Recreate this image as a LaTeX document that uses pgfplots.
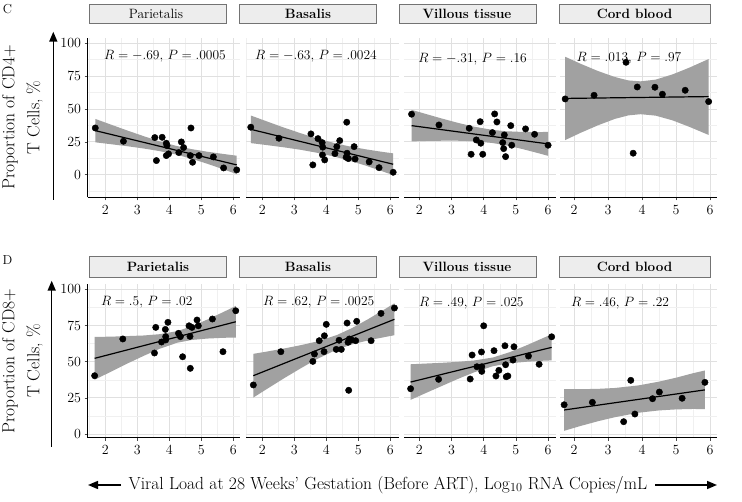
\RequirePackage{fix-cm}
\documentclass[border=0pt]{standalone}
\usepackage{fontspec}
\usepackage{pgfplots}
\pgfplotsset{compat=1.18}
\usepackage{pgfplotstable}
\usetikzlibrary{arrows.meta}

% ---------------- data: CD4+ (top row) ----------------
\pgfplotstableread{
x y
1.69 35.5
2.57 25.4
3.55 28.2
3.78 28.4
3.91 23.9
3.93 22.1
3.60 10.7
3.91 14.5
3.98 15.8
4.30 16.8
4.38 24.9
4.45 20.6
4.68 35.5
4.66 14.5
4.73 9.4
4.93 14.5
5.38 13.5
5.70 5.1
6.11 3.6
}\tA
\pgfplotstableread{
x y
1.64 36.1
2.52 27.7
3.52 31.0
3.58 7.4
3.74 27.4
3.87 24.4
3.89 20.9
3.88 15.0
3.95 11.2
4.27 16.0
4.33 21.3
4.42 25.9
4.64 39.9
4.65 16.3
4.62 13.2
4.69 12.2
4.87 21.3
4.90 11.9
5.34 9.7
5.65 5.3
6.09 1.8
}\tB
\pgfplotstableread{
x y
1.76 46.0
2.61 37.8
3.55 35.3
3.61 15.5
3.77 26.4
3.89 40.3
3.91 23.9
3.97 15.5
4.27 32.0
4.34 46.2
4.41 40.1
4.59 24.4
4.64 30.2
4.62 19.8
4.68 13.7
4.84 37.3
4.87 22.4
5.30 34.8
5.58 30.7
6.00 22.4
}\tC
\pgfplotstableread{
x y
1.74 57.6
2.59 60.4
3.53 85.5
3.74 16.3
3.86 66.7
4.38 66.5
4.60 61.2
5.27 64.2
5.96 55.6
}\tD
% ---------------- data: CD8+ (bottom row) ----------------
\pgfplotstableread{
x y
1.67 40.3
2.55 65.7
3.54 56.0
3.58 73.7
3.76 63.6
3.88 72.3
3.89 67.3
3.89 65.0
3.96 77.2
4.29 69.6
4.35 67.3
4.42 53.4
4.62 74.8
4.65 67.5
4.66 45.4
4.71 73.7
4.87 78.8
4.91 74.8
5.35 79.5
5.68 56.9
6.08 85.2
}\bA
\pgfplotstableread{
x y
1.72 33.9
2.58 56.9
3.58 50.2
3.63 55.3
3.78 64.5
3.94 67.9
3.93 56.9
4.00 75.8
4.31 58.5
4.40 64.8
4.47 58.5
4.65 76.7
4.68 63.4
4.72 65.7
4.70 30.2
4.79 65.0
4.92 64.5
4.95 77.9
5.40 64.5
5.71 83.4
6.13 87.1
}\bB
\pgfplotstableread{
x y
1.73 31.3
2.60 37.8
3.58 38.0
3.64 54.6
3.79 46.5
3.93 56.7
3.94 46.5
3.94 43.3
4.00 74.8
4.32 57.6
4.38 40.1
4.47 44.0
4.66 61.0
4.68 47.9
4.70 39.6
4.75 40.1
4.94 60.3
4.91 51.1
5.39 53.9
5.72 48.2
6.11 67.2
}\bC
\pgfplotstableread{
x y
1.71 20.2
2.54 21.9
3.46 8.5
3.67 37.1
3.79 13.8
4.31 24.4
4.51 29.0
5.18 24.7
5.85 35.7
}\bD

\pgfplotsset{
  panel/.style={scale only axis, anchor=south west, clip=false,
    xtick={2,3,4,5,6}, minor xtick={1.5,2.5,3.5,4.5,5.5},
    ytick={0,25,50,75,100}, minor ytick={-12.5,12.5,37.5,62.5,87.5},
    grid=both, major grid style={black!12, line width=0.7pt},
    minor grid style={black!6, line width=0.4pt},
    axis x line*=bottom, axis y line*=left,
    axis line style={-, black, line width=0.7pt},
    tick align=outside, major tick length=3pt, minor tick length=0pt,
    tick style={black!70, line width=0.5pt},
    tick label style={font=\fontsize{14}{16}\selectfont},
    xticklabel style={yshift=-1pt},
  },
  noy/.style={y axis line style={draw=none}, yticklabels={}, ytick style={draw=none}},
  toprow/.style={height=159.5pt, ymin=-17.4, ymax=104},
  botrow/.style={height=153.4pt, ymin=-2.56, ymax=103.5},
  c1/.style={width=152.8pt, xmin=1.447, xmax=6.222},
  c2/.style={width=152.5pt, xmin=1.491, xmax=6.257},
  c3/.style={width=152pt, xmin=1.525, xmax=6.245},
  c4/.style={width=156.7pt, xmin=1.588, xmax=6.197},
  band/.style={fill=black!37, draw=none, forget plot},
  fit/.style={black, line width=1.2pt, no markers},
  pts/.style={only marks, mark=*, mark size=3.2pt, black},
}

\begin{document}
\begin{tikzpicture}[x=1pt,y=1pt]
\useasboundingbox[fill=white] (0,0) rectangle (742,502);

% ================= TOP ROW (CD4+) =================
\begin{axis}[panel, toprow, c1, at={(87.5pt,304.5pt)}]
\addplot[band] coordinates {(1.69,42.4)(2.2,37.9)(2.7,33.5)(3.2,29.3)(3.7,25.3)(4.2,22.0)(4.7,19.4)(5.2,17.4)(5.7,15.7)(6.11,14.4)
 (6.11,0.4)(5.7,4.0)(5.2,8.2)(4.7,12.1)(4.2,15.4)(3.7,17.9)(3.2,19.9)(2.7,21.6)(2.2,23.1)(1.69,24.6)};
\addplot[fit] coordinates {(1.69,33.5)(6.11,7.4)};
\addplot[pts] table {\tA};
\end{axis}

\begin{axis}[panel, toprow, c2, noy, at={(246pt,304.5pt)}]
\addplot[band] coordinates {(1.64,45.0)(2.2,40.0)(2.7,35.6)(3.2,31.5)(3.7,27.7)(4.24,24.1)(4.7,21.6)(5.2,19.4)(5.7,17.5)(6.09,16.2)
 (6.09,-0.4)(5.7,3.0)(5.2,7.1)(4.7,10.8)(4.24,13.8)(3.7,16.7)(3.2,18.9)(2.7,20.7)(2.2,22.3)(1.64,24.0)};
\addplot[fit] coordinates {(1.64,34.5)(6.09,7.9)};
\addplot[pts] table {\tB};
\end{axis}

\begin{axis}[panel, toprow, c3, noy, at={(404pt,304.5pt)}]
\addplot[band] coordinates {(1.76,49.3)(2.2,46.2)(2.7,42.7)(3.2,39.4)(3.7,36.5)(4.26,34.1)(4.7,33.0)(5.2,32.5)(5.7,32.4)(6.0,32.5)
 (6.0,14.3)(5.7,16.3)(5.2,19.5)(4.7,22.3)(4.26,24.1)(3.7,25.4)(3.2,25.8)(2.7,25.8)(2.2,25.6)(1.76,25.3)};
\addplot[fit] coordinates {(1.76,37.3)(6.0,23.4)};
\addplot[pts] table {\tC};
\end{axis}

\begin{axis}[panel, toprow, c4, noy, at={(560pt,304.5pt)}]
\addplot[band] coordinates {(1.74,89.7)(2.2,84.3)(2.7,78.9)(3.2,74.3)(3.6,71.7)(3.96,71.0)(4.4,72.3)(4.9,76.3)(5.4,81.5)(5.96,88.0)
 (5.96,30.2)(5.4,36.3)(4.9,41.3)(4.4,44.9)(3.96,46.0)(3.6,45.1)(3.2,42.4)(2.7,37.5)(2.2,31.9)(1.74,26.3)};
\addplot[fit] coordinates {(1.74,58.0)(5.96,59.4)};
\addplot[pts] table {\tD};
\end{axis}

% ================= BOTTOM ROW (CD8+) =================
\begin{axis}[panel, botrow, c1, at={(87.5pt,64.3pt)}]
\addplot[band] coordinates {(1.67,67.1)(2.2,67.3)(2.7,67.7)(3.2,68.1)(3.7,69.0)(4.25,71.1)(4.7,74.4)(5.2,79.2)(5.7,84.4)(6.08,88.5)
 (6.08,66.7)(5.7,66.5)(5.2,66.0)(4.7,65.0)(4.25,63.1)(3.7,58.9)(3.2,54.0)(2.7,48.8)(2.2,43.3)(1.67,37.5)};
\addplot[fit] coordinates {(1.67,52.3)(6.08,77.6)};
\addplot[pts] table {\bA};
\end{axis}

\begin{axis}[panel, botrow, c2, noy, at={(246pt,64.3pt)}]
\addplot[band] coordinates {(1.72,55.4)(2.2,57.2)(2.7,59.2)(3.2,61.4)(3.7,63.9)(4.33,68.4)(4.8,73.2)(5.3,79.3)(5.8,85.9)(6.13,90.4)
 (6.13,68.3)(5.8,66.9)(5.3,64.7)(4.8,61.9)(4.33,58.4)(3.7,51.7)(3.2,45.4)(2.7,38.8)(2.2,31.9)(1.72,25.2)};
\addplot[fit] coordinates {(1.72,40.3)(6.13,79.3)};
\addplot[pts] table {\bB};
\end{axis}

\begin{axis}[panel, botrow, c3, noy, at={(404pt,64.3pt)}]
\addplot[band] coordinates {(1.73,48.2)(2.2,48.7)(2.7,49.2)(3.2,49.9)(3.7,50.8)(4.29,52.9)(4.8,56.5)(5.3,61.0)(5.8,65.9)(6.11,68.9)
 (6.11,50.9)(5.8,50.6)(5.3,49.9)(4.8,48.9)(4.29,46.9)(3.7,42.6)(3.2,38.1)(2.7,33.2)(2.2,28.3)(1.73,23.6)};
\addplot[fit] coordinates {(1.73,35.9)(6.11,59.9)};
\addplot[pts] table {\bC};
\end{axis}

\begin{axis}[panel, botrow, c4, noy, at={(560pt,64.3pt)}]
\addplot[band] coordinates {(1.71,31.0)(2.2,31.0)(2.7,31.2)(3.2,31.8)(3.9,33.6)(4.5,36.2)(5.0,38.9)(5.5,42.0)(5.85,43.9)
 (5.85,17.2)(5.5,17.3)(5.0,17.0)(4.5,16.3)(3.9,14.7)(3.2,11.6)(2.7,8.8)(2.2,5.6)(1.71,2.2)};
\addplot[fit] coordinates {(1.71,16.6)(5.85,30.5)};
\addplot[pts] table {\bD};
\end{axis}

% ================= strips =================
\tikzset{strip/.style={fill=black!7, draw=black!55, line width=0.6pt}}
\foreach \a/\b in {89.3/226.7, 239.3/376.7, 399.3/536.7, 559/710}{
  \draw[strip] (\a,478.7) rectangle (\b,498);
  \draw[strip] (\a,224.7) rectangle (\b,245.3);
}
\tikzset{stt/.style={font=\fontsize{13.5}{15}\selectfont\bfseries, inner sep=0pt}}
\node[font=\fontsize{13.5}{15}\selectfont, inner sep=0pt] at (156,488.3) {Parietalis};
\node[stt] at (308,488.3) {Basalis};
\node[stt] at (467,488.3) {Villous tissue};
\node[stt] at (634.5,488.3) {Cord blood};
\node[stt] at (158,235) {Parietalis};
\node[stt] at (308,235) {Basalis};
\node[stt] at (467,235) {Villous tissue};
\node[stt] at (634.5,235) {Cord blood};

% ================= annotations =================
\tikzset{ann/.style={font=\fontsize{13.5}{15}\selectfont, inner sep=0pt}}
\node[ann] at (165,446) {$R = -.69$, $P = .0005$};
\node[ann] at (316,445.3) {$R = -.63$, $P = .0024$};
\node[ann] at (472.5,442.7) {$R = -.31$, $P = .16$};
\node[ann] at (629,443.7) {$R = .013$, $P = .97$};
\node[ann] at (146.7,200.3) {$R = .5$, $P = .02$};
\node[ann] at (318.7,200) {$R = .62$, $P = .0025$};
\node[ann] at (471.3,199.3) {$R = .49$, $P = .025$};
\node[ann] at (620,199.3) {$R = .46$, $P = .22$};

% ================= panel letters =================
\node[font=\fontsize{13}{15}\selectfont, inner sep=0pt] at (7.5,493) {C};
\node[font=\fontsize{13}{15}\selectfont, inner sep=0pt] at (7.5,242) {D};

% ================= y labels with arrows =================
\node[rotate=90, align=center, font=\fontsize{17.5}{25}\selectfont, inner sep=0pt] at (22.5,384.5) {Proportion of CD4+\\T Cells, \%};
\node[rotate=90, align=center, font=\fontsize{17.5}{25}\selectfont, inner sep=0pt] at (22.5,141) {Proportion of CD8+\\T Cells, \%};
\draw[line width=1.5pt, -{Triangle[length=10pt,width=8pt]}] (53.3,302) -- (53.3,470.3);
\draw[line width=1.5pt, -{Triangle[length=10pt,width=8pt]}] (51.7,55) -- (51.7,221.3);

% ================= x title with arrows =================
\node[font=\fontsize{17.5}{19}\selectfont, inner sep=0pt] at (388,17) {Viral Load at 28 Weeks' Gestation (Before ART), Log$_{10}$ RNA Copies/mL};
\draw[line width=1.5pt, -{Triangle[length=10pt,width=8pt]}] (121,17) -- (88,17);
\draw[line width=1.5pt, -{Triangle[length=10pt,width=8pt]}] (655,17) -- (717,17);
\end{tikzpicture}
\end{document}
